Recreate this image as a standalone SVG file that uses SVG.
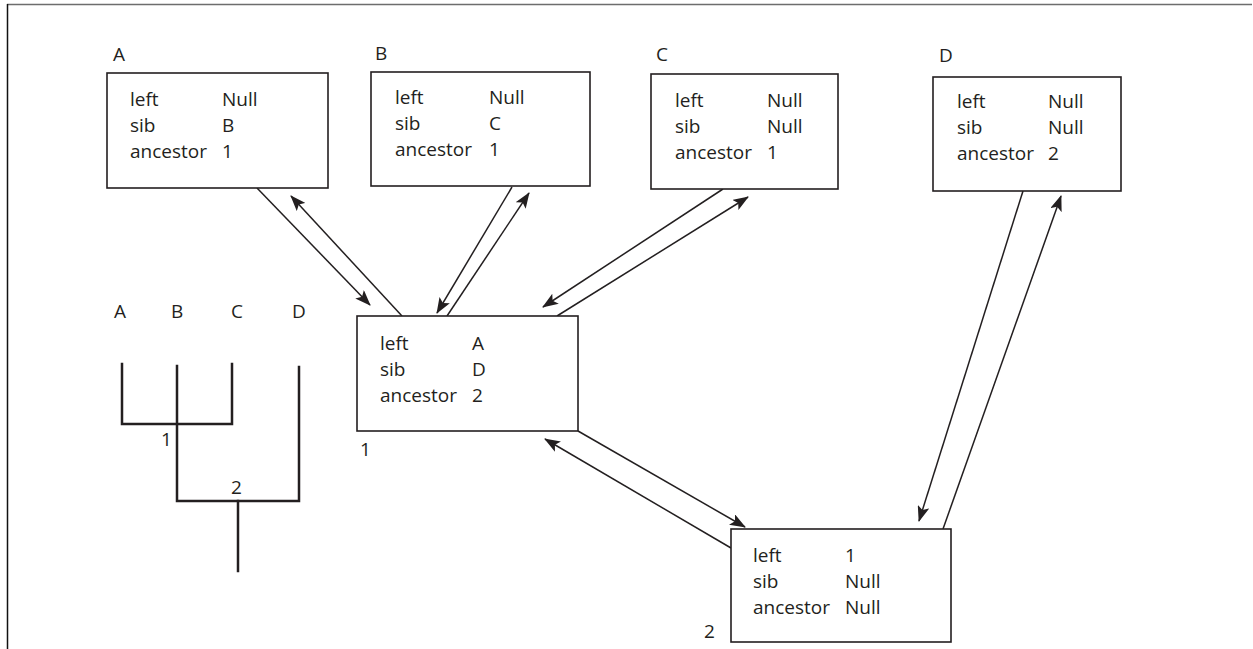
<svg xmlns="http://www.w3.org/2000/svg" width="1253" height="649" viewBox="0 0 1253 649">
  <style>
    .box { fill: #ffffff; stroke: #231f20; stroke-width: 1.6; }
    .txt { font-family: "Open Sans", "Liberation Sans", sans-serif; font-size: 19px; fill: #231f20; }
    .link { stroke: #231f20; stroke-width: 1.5; fill: none; }
    .arrow { stroke: #231f20; stroke-width: 1.5; fill: none; marker-end: url(#head); }
    .tree { stroke: #231f20; stroke-width: 2.5; fill: none; stroke-linecap: square; }
  </style>
  <defs>
    <marker id="head" markerUnits="userSpaceOnUse" markerWidth="16" markerHeight="12" refX="15" refY="6" orient="auto">
      <path d="M0,0 L16,6 L0,12 L3.5,6 z" fill="#231f20"/>
    </marker>
  </defs>

  <rect x="0" y="0" width="1253" height="649" fill="#ffffff"/>

  <!-- frame -->
  <g id="frame">
    <line x1="7" y1="4.5" x2="1252" y2="4.5" stroke="#6d6d6d" stroke-width="1.5"/>
    <line x1="7.5" y1="4" x2="7.5" y2="649" stroke="#111111" stroke-width="1.5"/>
  </g>

  <!-- small cladogram -->
  <g id="cladogram">
    <text class="txt" x="114" y="318">A</text>
    <text class="txt" x="171" y="318">B</text>
    <text class="txt" x="231" y="318">C</text>
    <text class="txt" x="292" y="318">D</text>
    <polyline class="tree" points="122,364 122,424 232,424 232,364"/>
    <polyline class="tree" points="177,366 177,501 299,501 299,367"/>
    <line class="tree" x1="238" y1="501" x2="238" y2="571"/>
    <text class="txt" x="161" y="446">1</text>
    <text class="txt" x="231" y="494">2</text>
  </g>

  <!-- connectors -->
  <g id="connectors">
    <line class="arrow" x1="257" y1="188" x2="370" y2="305"/>
    <line class="arrow" x1="402" y1="316" x2="291" y2="196"/>
    <line class="arrow" x1="512" y1="187" x2="437" y2="313"/>
    <line class="arrow" x1="447" y1="316" x2="529" y2="193"/>
    <line class="arrow" x1="723" y1="189" x2="543" y2="307"/>
    <line class="arrow" x1="557" y1="316" x2="748" y2="197"/>
    <line class="arrow" x1="1023" y1="191" x2="919" y2="521"/>
    <line class="arrow" x1="943" y1="529" x2="1061" y2="196"/>
    <line class="arrow" x1="578" y1="431" x2="745" y2="527"/>
    <line class="arrow" x1="731" y1="548" x2="545" y2="439"/>
  </g>

  <!-- node A -->
  <g id="node-A">
    <text class="txt" x="113" y="61">A</text>
    <rect class="box" x="107" y="73" width="221" height="115"/>
    <text class="txt" x="130" y="106">left</text>
    <text class="txt" x="222" y="106">Null</text>
    <text class="txt" x="130" y="132">sib</text>
    <text class="txt" x="222" y="132">B</text>
    <text class="txt" x="130" y="158">ancestor</text>
    <text class="txt" x="222" y="158">1</text>
  </g>

  <!-- node B -->
  <g id="node-B">
    <text class="txt" x="375" y="60">B</text>
    <rect class="box" x="371" y="72" width="219" height="114"/>
    <text class="txt" x="395" y="104">left</text>
    <text class="txt" x="489" y="104">Null</text>
    <text class="txt" x="395" y="130">sib</text>
    <text class="txt" x="489" y="130">C</text>
    <text class="txt" x="395" y="156">ancestor</text>
    <text class="txt" x="489" y="156">1</text>
  </g>

  <!-- node C -->
  <g id="node-C">
    <text class="txt" x="656" y="61">C</text>
    <rect class="box" x="651" y="74" width="187" height="115"/>
    <text class="txt" x="675" y="107">left</text>
    <text class="txt" x="767" y="107">Null</text>
    <text class="txt" x="675" y="133">sib</text>
    <text class="txt" x="767" y="133">Null</text>
    <text class="txt" x="675" y="159">ancestor</text>
    <text class="txt" x="767" y="159">1</text>
  </g>

  <!-- node D -->
  <g id="node-D">
    <text class="txt" x="939" y="62">D</text>
    <rect class="box" x="933" y="77" width="188" height="114"/>
    <text class="txt" x="957" y="108">left</text>
    <text class="txt" x="1048" y="108">Null</text>
    <text class="txt" x="957" y="134">sib</text>
    <text class="txt" x="1048" y="134">Null</text>
    <text class="txt" x="957" y="160">ancestor</text>
    <text class="txt" x="1048" y="160">2</text>
  </g>

  <!-- node 1 -->
  <g id="node-1">
    <rect class="box" x="357" y="316" width="221" height="115"/>
    <text class="txt" x="380" y="350">left</text>
    <text class="txt" x="472" y="350">A</text>
    <text class="txt" x="380" y="376">sib</text>
    <text class="txt" x="472" y="376">D</text>
    <text class="txt" x="380" y="402">ancestor</text>
    <text class="txt" x="472" y="402">2</text>
    <text class="txt" x="360" y="456">1</text>
  </g>

  <!-- node 2 -->
  <g id="node-2">
    <rect class="box" x="731" y="529" width="220" height="113"/>
    <text class="txt" x="753" y="562">left</text>
    <text class="txt" x="845" y="562">1</text>
    <text class="txt" x="753" y="588">sib</text>
    <text class="txt" x="845" y="588">Null</text>
    <text class="txt" x="753" y="614">ancestor</text>
    <text class="txt" x="845" y="614">Null</text>
    <text class="txt" x="704" y="638">2</text>
  </g>
</svg>
